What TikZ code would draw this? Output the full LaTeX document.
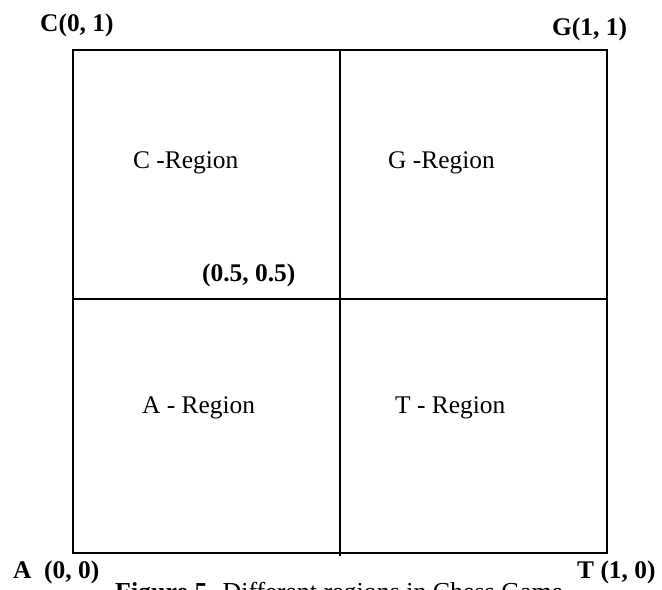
\documentclass[tikz,border=0pt]{standalone}
\usepackage{fontspec}
\setmainfont{Liberation Serif}
\begin{document}
\begin{tikzpicture}[x=1bp,y=-1bp,
  grid/.style={line width=1.4bp},
  corner/.style={font=\fontsize{25.5}{30}\selectfont\bfseries, inner sep=0pt, anchor=base west},
  region/.style={font=\fontsize{25.5}{30}\selectfont, inner sep=0pt, anchor=base west},
  caption/.style={font=\fontsize{26}{30}\selectfont, inner sep=0pt, anchor=base west}]
  % page frame
  \useasboundingbox (0,0) rectangle (662,590);
  \clip (0,0) rectangle (662,590);
  % outer square and the two dividing lines
  \coordinate (nw) at (73,50);
  \coordinate (se) at (607,553);
  \coordinate (mtop) at (340,50);
  \coordinate (mbot) at (340,556);
  \coordinate (mleft) at (73,299);
  \coordinate (mright) at (607,299);
  \draw[grid] (nw) rectangle (se);
  \draw[grid] (mtop) -- (mbot);
  \draw[grid] (mleft) -- (mright);
  % corner labels
  \node[corner] (c) at (40,32) {C(0, 1)};
  \node[corner] (g) at (552,36) {G(1, 1)};
  \node[corner] (a) at (13,578) {A\ \ (0, 0)};
  \node[corner] (t) at (577,578) {T (1, 0)};
  \node[corner] (mid) at (202,281) {(0.5, 0.5)};
  % region labels
  \node[region] (cr) at (133,169) {C -Region};
  \node[region] (gr) at (388,169) {G -Region};
  \node[region] (ar) at (142,413) {A - Region};
  \node[region] (tr) at (395,413) {T - Region};
  % caption, running off the lower edge
  \node[caption] (cap) at (115,600) {\textbf{Figure 5}. Different regions in Chess Game};
\end{tikzpicture}
\end{document}
